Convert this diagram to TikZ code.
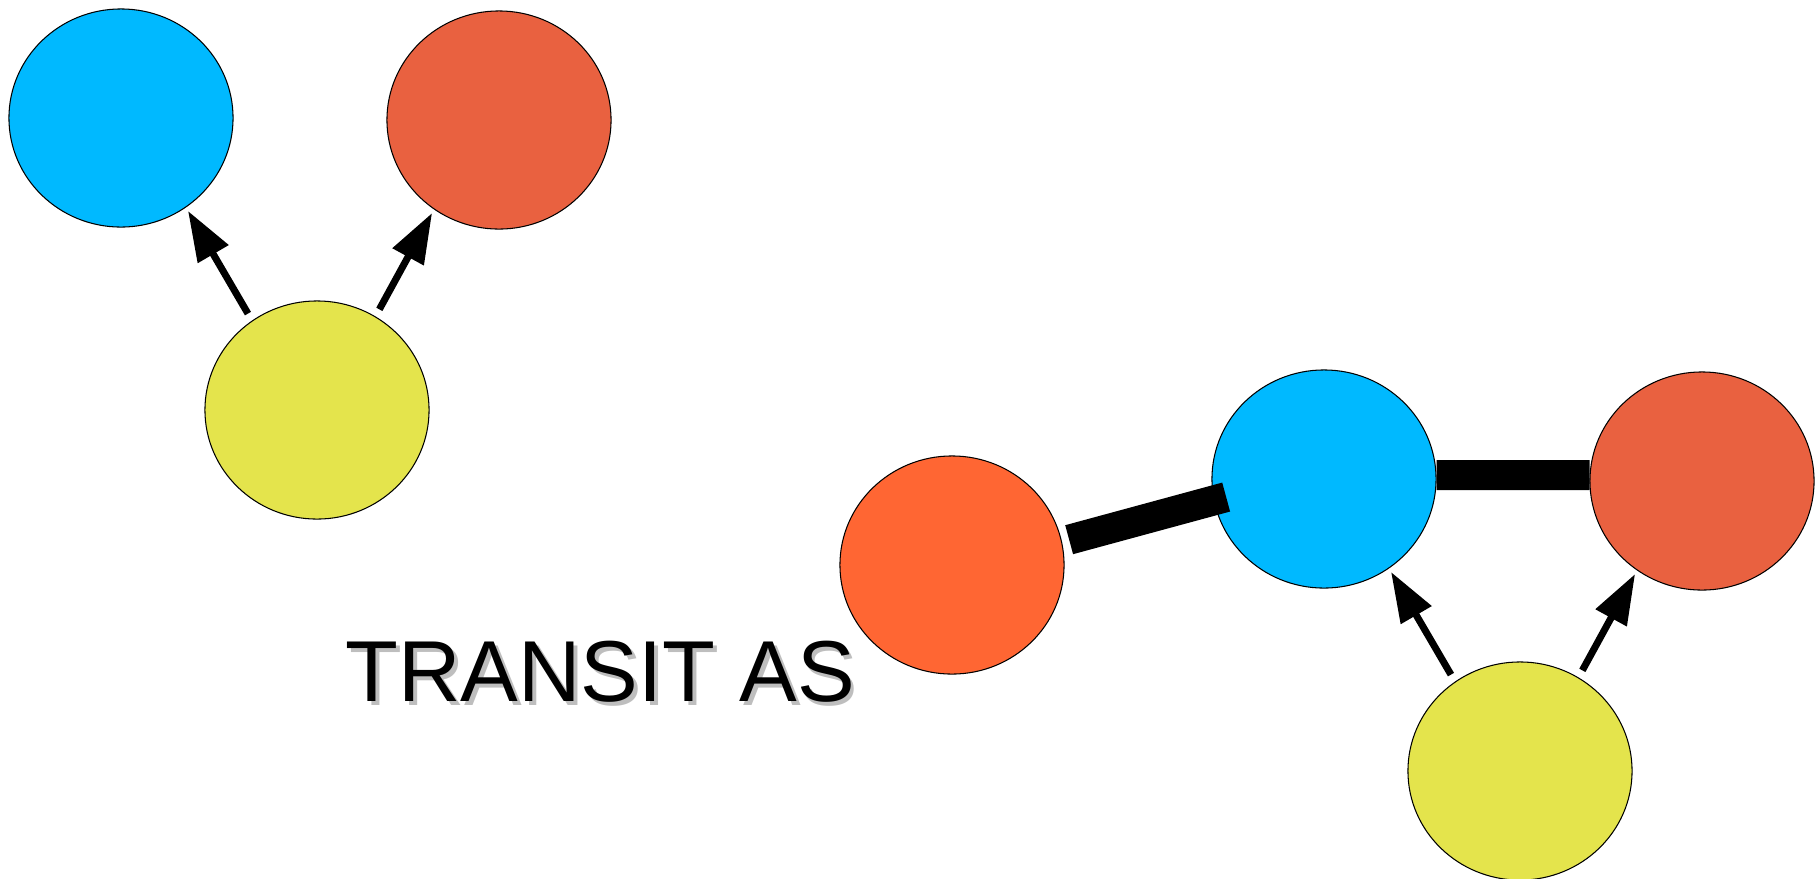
\documentclass[tikz,border=0pt]{standalone}
\usepackage{fontspec}
\setmainfont{Liberation Sans}
\usepackage{xcolor}
\usepackage{tikz}
\usetikzlibrary{arrows.meta, shapes.geometric}

\definecolor{asBlue}{RGB}{0,185,255}
\definecolor{asRed}{RGB}{233,97,64}
\definecolor{asOrange}{RGB}{255,102,51}
\definecolor{asYellow}{RGB}{228,228,76}
\definecolor{asShadow}{RGB}{190,190,190}

\tikzset{
	as/.style={ellipse, draw=black, line width=0.3pt, inner sep=0pt, minimum width=2.24cm, minimum height=2.18cm},
	uplink/.style={line width=0.07cm, -{Triangle[length=0.5cm, width=0.34cm]}, shorten <=0.08cm, shorten >=0.04cm},
	peering/.style={line width=0.3cm},
	title/.style={anchor=base west, inner sep=0pt, font=\fontsize{24.6pt}{30pt}\selectfont}
}

\begin{document}
\begin{tikzpicture}[x=0.01cm, y=-0.01cm]
					\def\xMAX{1818};
					\def\yMAX{878};
					\useasboundingbox (0,0) rectangle (\xMAX,\yMAX);

					\foreach \dx/\dy/\n in {0/0/A, 1203/361/B}
					{
						\begin{scope}[shift={(\dx,\dy)}]
							\node [as, fill=asBlue] (blue\n) at (121,118) {};
							\node [as, fill=asRed] (red\n) at (499,120) {};
							\node [as, fill=asYellow] (yellow\n) at (317,410) {};

							\draw [uplink] (yellow\n.126) -- (blue\n.-54);
							\draw [uplink] (yellow\n.58) -- (red\n.-126);
						\end{scope}
					}

					\begin{scope}
						\node [as, fill=asOrange] (orange) at (952,565) {};
						\draw [peering, shorten <=0.074cm, shorten >=-0.13cm] (orange.12.6) -- (blueB.191);
						\draw [peering] (blueB.2.9) -- (redB.177);
					\end{scope}

					\begin{scope}
						\node [title, text=asShadow] (labelShadow) at (348.5,705.5) {TRANSIT AS};
						\node [title] (label) at (344.7,701.7) {TRANSIT AS};
					\end{scope}
				\end{tikzpicture}
\end{document}
